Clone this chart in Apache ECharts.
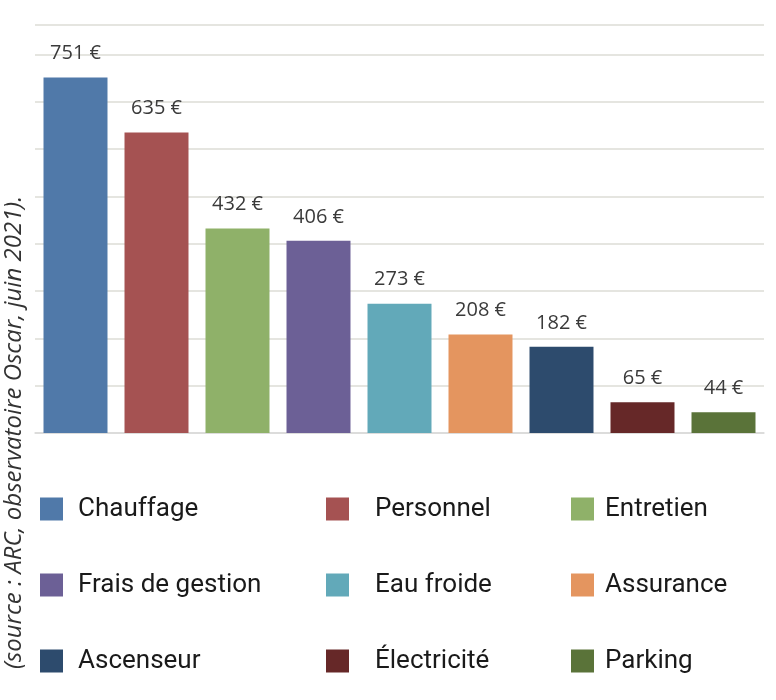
<!DOCTYPE html>
<html><head><meta charset="utf-8">
<script src="https://cdn.jsdelivr.net/npm/echarts@6/dist/echarts.min.js"></script>
<style>html,body{margin:0;padding:0;background:#fff}#c{width:776px;height:700px}</style>
</head><body><div id="c"></div>
<script>
var categories = ['Chauffage','Personnel','Entretien','Frais de gestion','Eau froide','Assurance','Ascenseur','Électricité','Parking'];
var values = [751, 635, 432, 406, 273, 208, 182, 65, 44];
var colors = ['#5079A9','#A55252','#8FB169','#6C6096','#62A9B9','#E4955F','#2D4B6D','#662828','#5A7339'];
var sourceText = '(source : ARC, observatoire Oscar, juin 2021).';
var legendCols = [[0,3,6],[1,4,7],[2,5,8]];
var legendLeft = [40, 326, 571];
var legendTextPad = [10, 21, 6];

var series = categories.map(function(name, i){
  var d = values.map(function(v, j){ return j === i ? v : '-'; });
  return {
    name: name, type: 'bar', stack: 'all', data: d,
    barCategoryGap: '21%',
    itemStyle: {color: colors[i]},
    label: {show: true, position: 'top', distance: 14,
      formatter: function(p){ return p.value + ' €'; },
      color: '#3a3a3a', fontSize: 20, fontFamily: 'Open Sans'}
  };
});

var legends = legendCols.map(function(col, k){
  return {
    orient: 'vertical', left: legendLeft[k], top: 496, padding: 0,
    itemWidth: 23, itemHeight: 23, itemGap: 50,
    icon: 'rect',
    data: col.map(function(i){ return categories[i]; }),
    textStyle: {fontSize: 26, color: '#1a1a1a', fontFamily: 'Roboto', padding: [0,0,0,legendTextPad[k]]},
    selectedMode: false
  };
});

var chart = echarts.init(document.getElementById('c'), null, {renderer: 'canvas'});
chart.setOption({
  animation: false,
  backgroundColor: '#fff',
  grid: {left: 35, right: 12, top: 25, bottom: 267, containLabel: false},
  xAxis: {type: 'category', data: categories,
    axisLine: {show: true, lineStyle: {color: '#d9d9d9', width: 1.5}},
    axisTick: {show: false}, axisLabel: {show: false}},
  yAxis: {type: 'value', min: 0, max: 862, interval: 100,
    axisLine: {show: false}, axisTick: {show: false}, axisLabel: {show: false},
    splitLine: {lineStyle: {color: '#dcdcd6', width: 1.5}}},
  legend: legends,
  series: series,
  graphic: [{
    type: 'text', x: 26, y: 669, rotation: Math.PI/2,
    style: {text: sourceText, font: 'italic 24px "Open Sans"', fill: '#333', textVerticalAlign: 'bottom'}
  }]
});
</script></body></html>
